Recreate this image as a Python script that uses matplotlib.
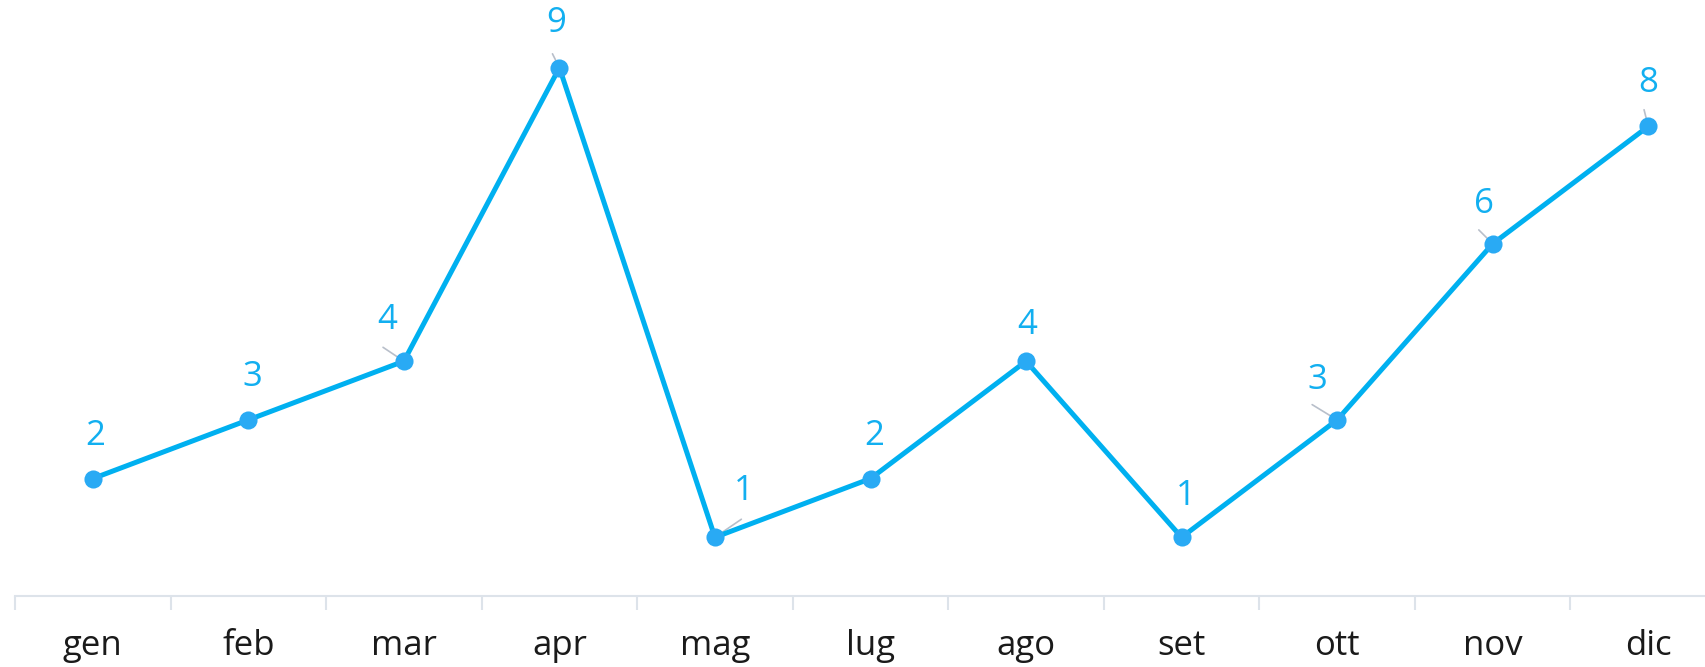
import matplotlib.pyplot as plt

# data
months = ['gen', 'feb', 'mar', 'apr', 'mag', 'lug', 'ago', 'set', 'ott', 'nov', 'dic']
values = [2, 3, 4, 9, 1, 2, 4, 1, 3, 6, 8]

# label offsets (points) and which labels get a leader line
label_dx = [2, 3, -12, -2, 21, 3, 1, 3, -14, -6, 0]
label_dy = [-31, -31, -30, -32, -33, -31, -26, -30, -29, -29, -31]
leaders = [None, None, (-15, -10), (-5, -10), (19, -13), None, None, None, (-18, -11), (-10, -10), (-3, -12)]

plt.rcParams['font.family'] = ['Open Sans', 'DejaVu Sans']

line_col = '#00b0f0'
mark_col = '#29aaf4'

fig = plt.figure(figsize=(17.06, 6.67), dpi=100)
ax = fig.add_axes([15/1706, 71/667, 1711/1706, 587/667])

x = list(range(len(months)))
ax.plot(x, values, color=line_col, lw=3.6, zorder=2)
ax.scatter(x, values, s=170, color=mark_col, zorder=3, linewidths=0)

for i, v in enumerate(values):
    ax.annotate(str(v), xy=(i, v), xytext=(label_dx[i], -label_dy[i]),
                textcoords='offset points', ha='center', va='center',
                fontsize=25, color='#12aff0')
    if leaders[i] is not None:
        ax.annotate('', xy=(i, v), xytext=(leaders[i][0], -leaders[i][1]),
                    textcoords='offset points',
                    arrowprops=dict(arrowstyle='-', color='#b8bfca', lw=1.2,
                                    shrinkA=0, shrinkB=2), zorder=1)

ax.set_xlim(-0.5, len(months) - 0.5)
ax.set_ylim(0, 10)

for s in ['top', 'right', 'left']:
    ax.spines[s].set_visible(False)
ax.spines['bottom'].set_color('#dde3ea')
ax.spines['bottom'].set_linewidth(1.5)

ax.set_xticks([i - 0.5 for i in x])
ax.set_xticklabels([])
ax.tick_params(axis='x', which='major', length=10, width=1.5, color='#dde3ea')
ax.set_xticks(x, minor=True)
ax.set_xticklabels(months, minor=True, fontsize=25, color='#1a1a1a')
ax.tick_params(axis='x', which='minor', length=0, pad=24)
ax.set_yticks([])

fig.savefig('out.png', dpi=100)
